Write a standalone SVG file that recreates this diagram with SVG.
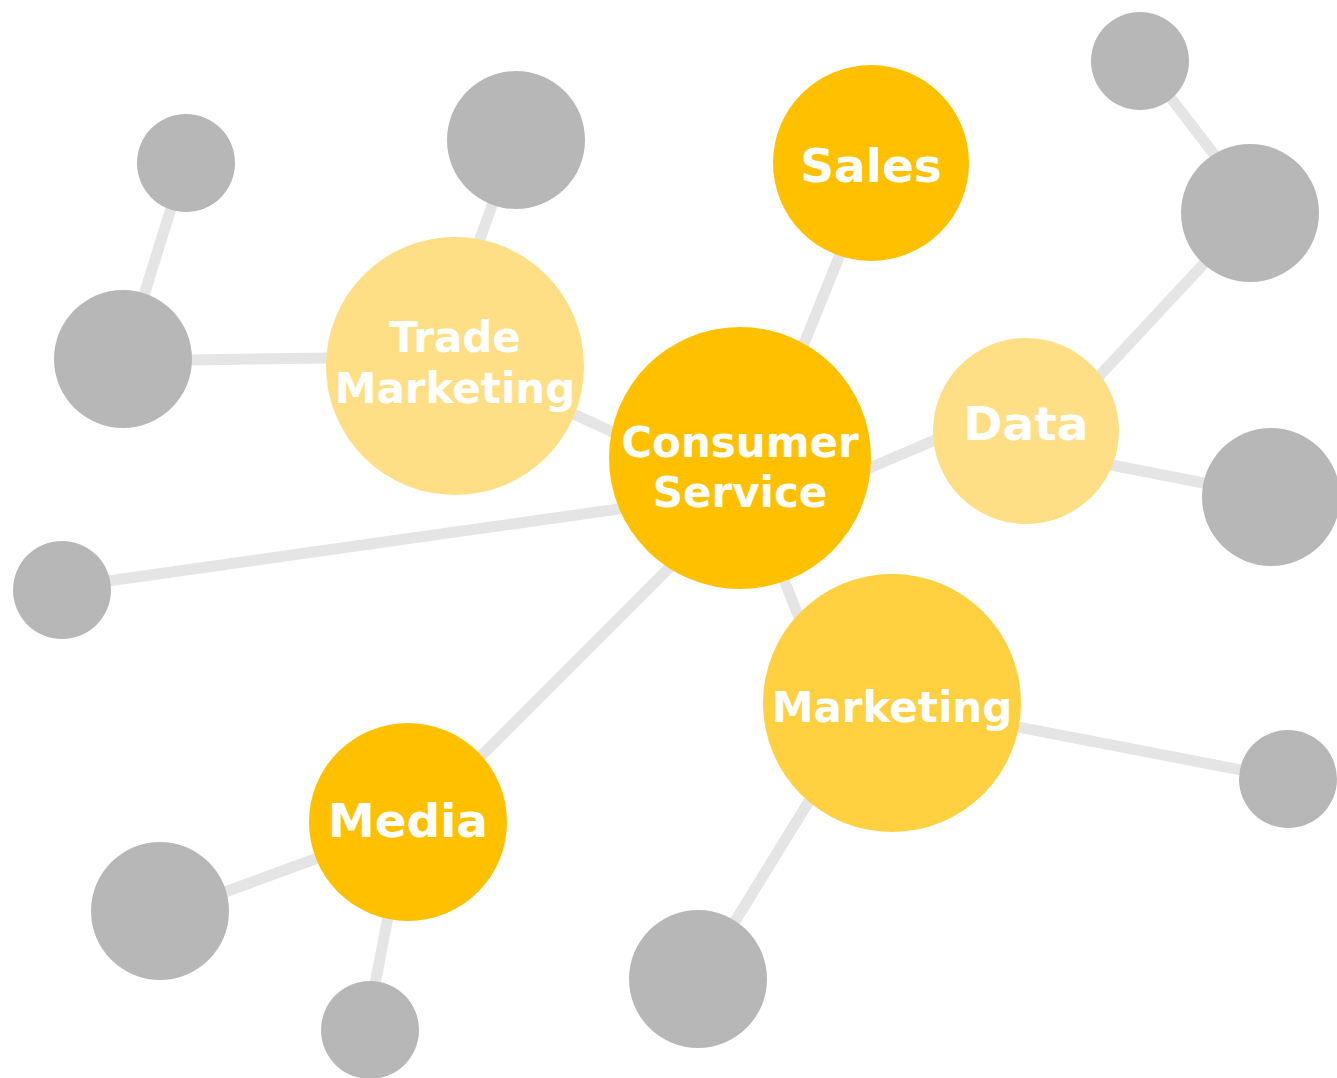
<svg xmlns="http://www.w3.org/2000/svg" width="1337" height="1078" viewBox="0 0 1337 1078">
<style>
.edge{stroke:#E5E5E5;stroke-width:11;fill:none}
.gray{fill:#B7B7B7}
.dark{fill:#FFC000}
.light{fill:#FFDF85}
.mid{fill:#FFD040}
text{font-family:"DejaVu Sans",sans-serif;font-weight:bold;fill:#FFFFFF;text-anchor:middle}
.big{font-size:47px}
.two{font-size:42px}
</style>
<rect width="1337" height="1078" fill="#FFFFFF"/>
<g id="connectors">
<line class="edge" x1="753" y1="470" x2="862" y2="200"/>
<line class="edge" x1="500" y1="380" x2="680" y2="463"/>
<line class="edge" x1="800" y1="498" x2="1000" y2="412"/>
<line class="edge" x1="760" y1="520" x2="824" y2="680"/>
<line class="edge" x1="420" y1="817" x2="700" y2="537"/>
<line class="edge" x1="62" y1="587.5" x2="700" y2="497.5"/>
<line class="edge" x1="458" y1="300" x2="512" y2="150"/>
<line class="edge" x1="123" y1="361" x2="400" y2="357"/>
<line class="edge" x1="130" y1="340" x2="183" y2="170"/>
<line class="edge" x1="1060" y1="418" x2="1240" y2="225"/>
<line class="edge" x1="1140" y1="58" x2="1240" y2="188"/>
<line class="edge" x1="1050" y1="453" x2="1260" y2="494"/>
<line class="edge" x1="950" y1="714" x2="1288" y2="779"/>
<line class="edge" x1="859" y1="720" x2="705" y2="970"/>
<line class="edge" x1="160" y1="916" x2="380" y2="835"/>
<line class="edge" x1="401" y1="850" x2="368" y2="1020"/>
</g>
<g id="g1"><circle class="gray" cx="186" cy="163" r="49"/></g>
<g id="g2"><circle class="gray" cx="516" cy="140" r="69"/></g>
<g id="g3"><circle class="gray" cx="123" cy="359" r="69"/></g>
<g id="g4"><circle class="gray" cx="62" cy="590" r="49"/></g>
<g id="g5"><circle class="gray" cx="1140" cy="61" r="49"/></g>
<g id="g6"><circle class="gray" cx="1250" cy="213" r="69"/></g>
<g id="g7"><circle class="gray" cx="1271" cy="497" r="69"/></g>
<g id="g8"><circle class="gray" cx="1288" cy="779" r="49"/></g>
<g id="g9"><circle class="gray" cx="698" cy="979" r="69"/></g>
<g id="g10"><circle class="gray" cx="160" cy="911" r="69"/></g>
<g id="g11"><circle class="gray" cx="370" cy="1030" r="49"/></g>
<g id="sales"><circle class="dark" cx="871" cy="163" r="98"/><text class="big" x="871" y="182">Sales</text></g>
<g id="trade-marketing"><circle class="light" cx="455" cy="366" r="129"/><text class="two" x="455" y="352">Trade</text><text class="two" x="455" y="403">Marketing</text></g>
<g id="data"><circle class="light" cx="1026" cy="431" r="93"/><text class="big" x="1026" y="440">Data</text></g>
<g id="marketing"><circle class="mid" cx="892" cy="703" r="129"/><text class="two" x="892" y="722">Marketing</text></g>
<g id="media"><circle class="dark" cx="408" cy="822" r="99"/><text class="big" x="408" y="837">Media</text></g>
<g id="consumer-service"><circle class="dark" cx="740" cy="458" r="131"/><text class="two" x="740" y="457">Consumer</text><text class="two" x="740" y="507">Service</text></g>
</svg>
